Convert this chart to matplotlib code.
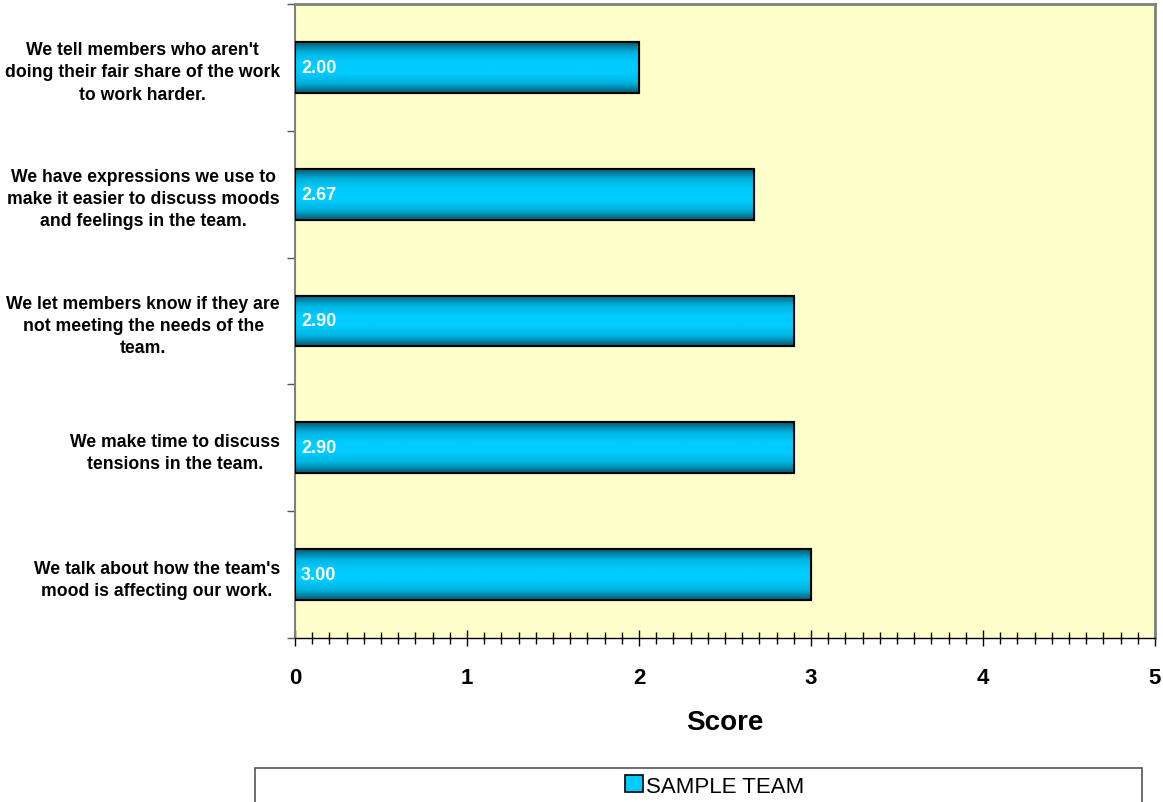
import numpy as np
import matplotlib
matplotlib.use("Agg")
import matplotlib.pyplot as plt
from matplotlib.patches import Rectangle
from matplotlib.colors import LinearSegmentedColormap
from matplotlib.ticker import MultipleLocator, FixedLocator

categories = [
    "We talk about how the team's\nmood is affecting our work.",
    "We make time to discuss\ntensions in the team.",
    "We let members know if they are\nnot meeting the needs of the\nteam.",
    "We have expressions we use to\nmake it easier to discuss moods\nand feelings in the team.",
    "We tell members who aren't\ndoing their fair share of the work\nto work harder.",
]
scores = [3.00, 2.90, 2.90, 2.67, 2.00]
series_name = "SAMPLE TEAM"
x_ticks = [0, 1, 2, 3, 4, 5]

plt.rcParams['font.family'] = ['Liberation Sans', 'DejaVu Sans']

fig = plt.figure(figsize=(11.63, 8.03), dpi=100)
ax = fig.add_axes([295/1163, 1 - 639/803, (1155-295)/1163, (639-5)/803])
ax.set_facecolor('#FFFFCC')

bar_h = 0.4
y = np.arange(len(categories))
bars = ax.barh(y, scores, height=bar_h, color='#00CCFF', edgecolor='black', linewidth=1.5, zorder=3)

cmap = LinearSegmentedColormap.from_list('grad', ['#005A73', '#00B4E0', '#00CCFF', '#00CCFF', '#00B4E0', '#005A73'])
grad = np.linspace(0, 1, 256).reshape(-1, 1)
for b, v, yi in zip(bars, scores, y):
    im = ax.imshow(grad, cmap=cmap, aspect='auto', extent=[0, v, yi - bar_h/2, yi + bar_h/2],
                   origin='lower', zorder=3.5, interpolation='bicubic')
    im.set_clip_path(b)
    ax.add_patch(Rectangle((0, yi - bar_h/2), v, bar_h, fill=False, edgecolor='black', linewidth=1.5, zorder=4))
    ax.text(0.035, yi, f"{v:.2f}", color='white', fontsize=13, fontweight='bold', va='center', ha='left', zorder=5)

ax.set_xlim(0, 5)
ax.set_ylim(-0.5, len(categories) - 0.5)
ax.xaxis.set_major_locator(FixedLocator(x_ticks))
ax.xaxis.set_minor_locator(MultipleLocator(0.1))
ax.set_xticklabels([str(t) for t in x_ticks], fontsize=16, fontweight='bold')
ax.tick_params(axis='x', which='major', direction='inout', length=12, width=1, pad=15)
ax.tick_params(axis='x', which='minor', direction='inout', length=8, width=1)

ax.yaxis.set_major_locator(FixedLocator(np.arange(-0.5, len(categories), 1.0)))
ax.yaxis.set_minor_locator(FixedLocator(y))
ax.set_yticklabels([])
ax.set_yticklabels(categories, minor=True, fontsize=12.7, fontweight='bold', linespacing=1.4)
ax.tick_params(axis='y', which='minor', length=0, pad=10.8)
ax.tick_params(axis='y', which='major', direction='out', length=6, width=1, color='#555555')
for lab in ax.get_yticklabels(minor=True):
    lab.set_horizontalalignment('right')
    lab.set_multialignment('center')

ax.set_xlabel("Score", fontsize=20, fontweight='bold', labelpad=15)

for s in ['top', 'right']:
    ax.spines[s].set_color('#808080')
    ax.spines[s].set_linewidth(2)
ax.spines['left'].set_color('#808080')
ax.spines['left'].set_linewidth(1.5)
ax.spines['bottom'].set_color('black')
ax.spines['bottom'].set_linewidth(1)

# legend box
fig.patches.append(Rectangle((255/1163, -0.01), (1142-255)/1163, 1 - 769/803 + 0.01,
                             transform=fig.transFigure, facecolor='white', edgecolor='#555555', linewidth=1.2))
handle = Rectangle((0, 0), 1, 1, facecolor='#00CCFF', edgecolor='black', linewidth=1.2)
fig.legend([handle], [series_name], loc='center', bbox_to_anchor=(715/1163, 1 - 787/803),
           frameon=False, fontsize=16, handlelength=0.8, handleheight=0.8, handletextpad=0.15,
           borderpad=0)

fig.savefig("out.png", dpi=100)
